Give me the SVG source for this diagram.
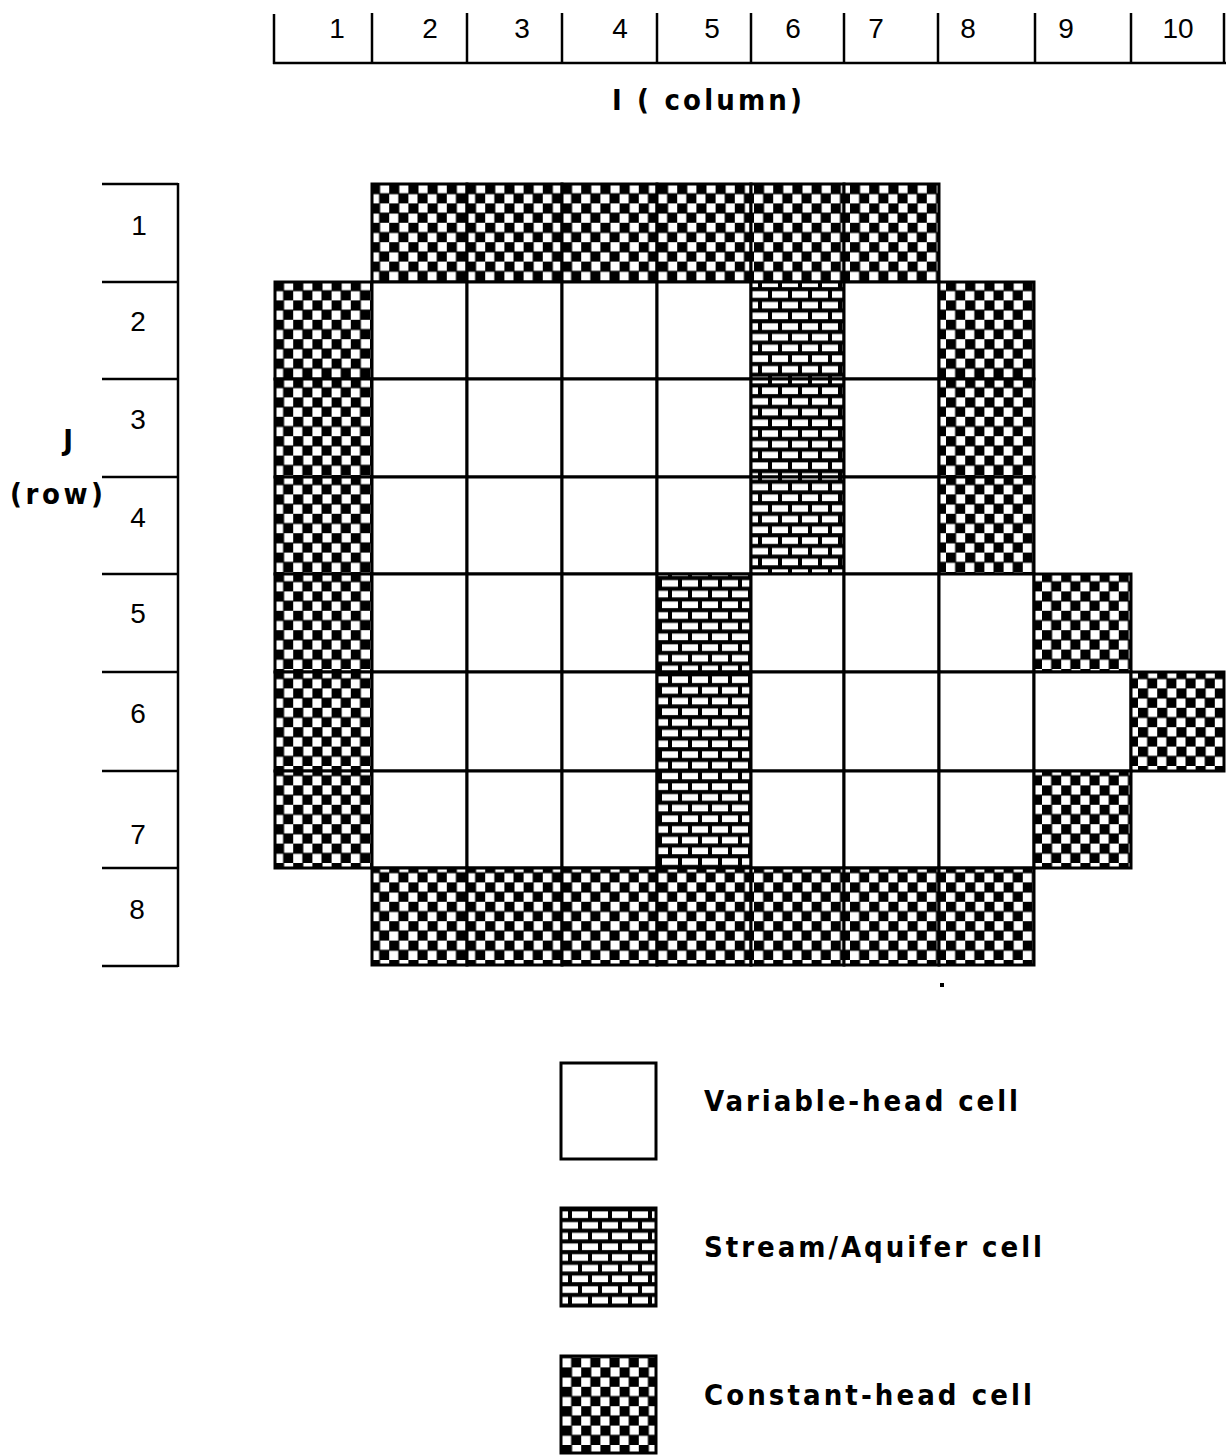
<svg xmlns="http://www.w3.org/2000/svg" width="1226" height="1455" viewBox="0 0 1226 1455">
  <style>
    .num { font-family: "Liberation Sans", Arial, sans-serif; font-size: 28px; fill: #000; text-anchor: middle; }
    .lbl { font-family: "DejaVu Sans Condensed", "DejaVu Sans", "Liberation Sans", sans-serif; font-stretch: condensed; font-weight: bold; font-size: 29px; fill: #000; }
    .rule { stroke: #000; stroke-width: 2.5; fill: none; }
    .cell { stroke: #000; stroke-width: 3; }
    .var { fill: #fff; }
    .chd { fill: url(#checker); }
    .stm { fill: url(#brick); }
  </style>
  <defs>
    <!-- constant-head cells: checkerboard fill -->
    <pattern id="checker" patternUnits="userSpaceOnUse" x="274" y="184" width="19.2" height="19.4">
      <rect width="19.2" height="19.4" fill="#fff"/>
      <rect x="-0.5" y="-0.5" width="10.6" height="10.7" fill="#000"/>
      <rect x="9.1" y="9.2" width="10.6" height="10.7" fill="#000"/>
      <rect x="18.7" y="18.9" width="1" height="1" fill="#000"/>
    </pattern>
    <!-- stream/aquifer cells: brick fill -->
    <pattern id="brick" patternUnits="userSpaceOnUse" x="0" y="0" width="20" height="21.4">
      <rect width="20" height="21.4" fill="#000"/>
      <rect x="2" y="2.3" width="16" height="6.6" fill="#fff"/>
      <rect x="-8" y="13" width="16" height="6.6" fill="#fff"/>
      <rect x="12" y="13" width="16" height="6.6" fill="#fff"/>
    </pattern>
  </defs>

  <!-- column ruler (I) -->
  <g id="column-ruler">
    <line class="rule" x1="273" y1="63" x2="1226" y2="63" stroke-width="3"/>
    <line class="rule" x1="274" y1="14" x2="274" y2="64"/>
    <line class="rule" x1="372" y1="13" x2="372" y2="63"/>
    <line class="rule" x1="467" y1="13" x2="467" y2="63"/>
    <line class="rule" x1="562" y1="13" x2="562" y2="63"/>
    <line class="rule" x1="657" y1="13" x2="657" y2="63"/>
    <line class="rule" x1="751" y1="13" x2="751" y2="63"/>
    <line class="rule" x1="844" y1="13" x2="844" y2="63"/>
    <line class="rule" x1="938" y1="13" x2="938" y2="63"/>
    <line class="rule" x1="1035" y1="13" x2="1035" y2="63"/>
    <line class="rule" x1="1131" y1="13" x2="1131" y2="63"/>
    <line class="rule" x1="1224" y1="13" x2="1224" y2="63"/>
    <text class="num" x="337" y="38">1</text>
    <text class="num" x="430" y="38">2</text>
    <text class="num" x="522" y="38">3</text>
    <text class="num" x="620" y="38">4</text>
    <text class="num" x="712" y="38">5</text>
    <text class="num" x="793" y="38">6</text>
    <text class="num" x="876" y="38">7</text>
    <text class="num" x="968" y="38">8</text>
    <text class="num" x="1066" y="38">9</text>
    <text class="num" x="1178" y="38">10</text>
    <text class="lbl" x="612" y="110" textLength="190" lengthAdjust="spacing">I ( column)</text>
  </g>

  <!-- row ruler (J) -->
  <g id="row-ruler">
    <line class="rule" x1="178" y1="183" x2="178" y2="967" stroke-width="3"/>
    <line class="rule" x1="102" y1="184" x2="178" y2="184"/>
    <line class="rule" x1="102" y1="282" x2="178" y2="282"/>
    <line class="rule" x1="102" y1="379" x2="178" y2="379"/>
    <line class="rule" x1="102" y1="477" x2="178" y2="477"/>
    <line class="rule" x1="102" y1="574" x2="178" y2="574"/>
    <line class="rule" x1="102" y1="672" x2="178" y2="672"/>
    <line class="rule" x1="102" y1="771" x2="178" y2="771"/>
    <line class="rule" x1="102" y1="868" x2="178" y2="868"/>
    <line class="rule" x1="102" y1="966" x2="178" y2="966"/>
    <text class="num" x="139" y="235">1</text>
    <text class="num" x="138" y="331">2</text>
    <text class="num" x="138" y="429">3</text>
    <text class="num" x="138" y="527">4</text>
    <text class="num" x="138" y="623">5</text>
    <text class="num" x="138" y="723">6</text>
    <text class="num" x="138" y="844">7</text>
    <text class="num" x="137" y="919">8</text>
    <text class="lbl" x="68" y="450" text-anchor="middle">J</text>
    <text class="lbl" x="10" y="504" textLength="93" lengthAdjust="spacing">(row)</text>
  </g>

  <!-- model grid cells -->
  <g id="row-1">
    <rect id="c1-2" class="cell chd" x="372" y="184" width="95" height="98"/>
    <rect id="c1-3" class="cell chd" x="467" y="184" width="95" height="98"/>
    <rect id="c1-4" class="cell chd" x="562" y="184" width="95" height="98"/>
    <rect id="c1-5" class="cell chd" x="657" y="184" width="94" height="98"/>
    <rect id="c1-6" class="cell chd" x="751" y="184" width="93" height="98"/>
    <rect id="c1-7" class="cell chd" x="844" y="184" width="95" height="98"/>
  </g>
  <g id="row-2">
    <rect id="c2-1" class="cell chd" x="275" y="282" width="97" height="97"/>
    <rect id="c2-2" class="cell var" x="372" y="282" width="95" height="97"/>
    <rect id="c2-3" class="cell var" x="467" y="282" width="95" height="97"/>
    <rect id="c2-4" class="cell var" x="562" y="282" width="95" height="97"/>
    <rect id="c2-5" class="cell var" x="657" y="282" width="94" height="97"/>
    <rect id="c2-6" class="cell stm" x="751" y="282" width="93" height="97"/>
    <rect id="c2-7" class="cell var" x="844" y="282" width="95" height="97"/>
    <rect id="c2-8" class="cell chd" x="939" y="282" width="95" height="97"/>
  </g>
  <g id="row-3">
    <rect id="c3-1" class="cell chd" x="275" y="379" width="97" height="98"/>
    <rect id="c3-2" class="cell var" x="372" y="379" width="95" height="98"/>
    <rect id="c3-3" class="cell var" x="467" y="379" width="95" height="98"/>
    <rect id="c3-4" class="cell var" x="562" y="379" width="95" height="98"/>
    <rect id="c3-5" class="cell var" x="657" y="379" width="94" height="98"/>
    <rect id="c3-6" class="cell stm" x="751" y="379" width="93" height="98"/>
    <rect id="c3-7" class="cell var" x="844" y="379" width="95" height="98"/>
    <rect id="c3-8" class="cell chd" x="939" y="379" width="95" height="98"/>
  </g>
  <g id="row-4">
    <rect id="c4-1" class="cell chd" x="275" y="477" width="97" height="97"/>
    <rect id="c4-2" class="cell var" x="372" y="477" width="95" height="97"/>
    <rect id="c4-3" class="cell var" x="467" y="477" width="95" height="97"/>
    <rect id="c4-4" class="cell var" x="562" y="477" width="95" height="97"/>
    <rect id="c4-5" class="cell var" x="657" y="477" width="94" height="97"/>
    <rect id="c4-6" class="cell stm" x="751" y="477" width="93" height="97"/>
    <rect id="c4-7" class="cell var" x="844" y="477" width="95" height="97"/>
    <rect id="c4-8" class="cell chd" x="939" y="477" width="95" height="97"/>
  </g>
  <g id="row-5">
    <rect id="c5-1" class="cell chd" x="275" y="574" width="97" height="98"/>
    <rect id="c5-2" class="cell var" x="372" y="574" width="95" height="98"/>
    <rect id="c5-3" class="cell var" x="467" y="574" width="95" height="98"/>
    <rect id="c5-4" class="cell var" x="562" y="574" width="95" height="98"/>
    <rect id="c5-5" class="cell stm" x="657" y="574" width="94" height="98"/>
    <rect id="c5-6" class="cell var" x="751" y="574" width="93" height="98"/>
    <rect id="c5-7" class="cell var" x="844" y="574" width="95" height="98"/>
    <rect id="c5-8" class="cell var" x="939" y="574" width="95" height="98"/>
    <rect id="c5-9" class="cell chd" x="1034" y="574" width="97" height="98"/>
  </g>
  <g id="row-6">
    <rect id="c6-1" class="cell chd" x="275" y="672" width="97" height="99"/>
    <rect id="c6-2" class="cell var" x="372" y="672" width="95" height="99"/>
    <rect id="c6-3" class="cell var" x="467" y="672" width="95" height="99"/>
    <rect id="c6-4" class="cell var" x="562" y="672" width="95" height="99"/>
    <rect id="c6-5" class="cell stm" x="657" y="672" width="94" height="99"/>
    <rect id="c6-6" class="cell var" x="751" y="672" width="93" height="99"/>
    <rect id="c6-7" class="cell var" x="844" y="672" width="95" height="99"/>
    <rect id="c6-8" class="cell var" x="939" y="672" width="95" height="99"/>
    <rect id="c6-9" class="cell var" x="1034" y="672" width="97" height="99"/>
    <rect id="c6-10" class="cell chd" x="1131" y="672" width="93" height="99"/>
  </g>
  <g id="row-7">
    <rect id="c7-1" class="cell chd" x="275" y="771" width="97" height="97"/>
    <rect id="c7-2" class="cell var" x="372" y="771" width="95" height="97"/>
    <rect id="c7-3" class="cell var" x="467" y="771" width="95" height="97"/>
    <rect id="c7-4" class="cell var" x="562" y="771" width="95" height="97"/>
    <rect id="c7-5" class="cell stm" x="657" y="771" width="94" height="97"/>
    <rect id="c7-6" class="cell var" x="751" y="771" width="93" height="97"/>
    <rect id="c7-7" class="cell var" x="844" y="771" width="95" height="97"/>
    <rect id="c7-8" class="cell var" x="939" y="771" width="95" height="97"/>
    <rect id="c7-9" class="cell chd" x="1034" y="771" width="97" height="97"/>
  </g>
  <g id="row-8">
    <rect id="c8-2" class="cell chd" x="372" y="868" width="95" height="97"/>
    <rect id="c8-3" class="cell chd" x="467" y="868" width="95" height="97"/>
    <rect id="c8-4" class="cell chd" x="562" y="868" width="95" height="97"/>
    <rect id="c8-5" class="cell chd" x="657" y="868" width="94" height="97"/>
    <rect id="c8-6" class="cell chd" x="751" y="868" width="93" height="97"/>
    <rect id="c8-7" class="cell chd" x="844" y="868" width="95" height="97"/>
    <rect id="c8-8" class="cell chd" x="939" y="868" width="95" height="97"/>
  </g>
  <rect x="940" y="983" width="4" height="4" fill="#000"/>

  <!-- legend -->
  <g id="legend-variable">
    <rect class="cell var" x="561" y="1063" width="95" height="96"/>
    <text class="lbl" x="704" y="1111" textLength="314" lengthAdjust="spacing">Variable-head cell</text>
  </g>
  <g id="legend-stream">
    <rect class="cell stm" x="561" y="1208" width="95" height="98"/>
    <text class="lbl" x="704" y="1257" textLength="338" lengthAdjust="spacing">Stream/Aquifer cell</text>
  </g>
  <g id="legend-constant">
    <rect class="cell chd" x="561" y="1356" width="95" height="97"/>
    <text class="lbl" x="704" y="1405" textLength="328" lengthAdjust="spacing">Constant-head cell</text>
  </g>
</svg>
